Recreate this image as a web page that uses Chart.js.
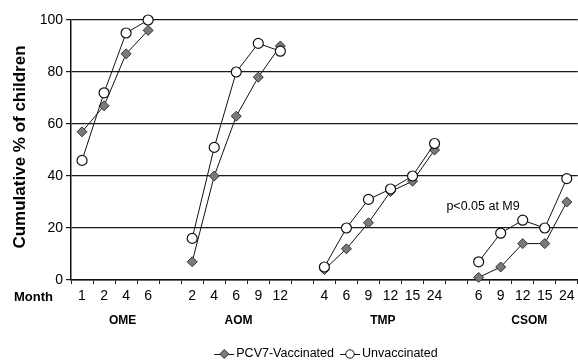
<!DOCTYPE html>
<html>
<head>
<meta charset="utf-8">
<script src="https://cdn.jsdelivr.net/npm/chart.js@4.4.0/dist/chart.umd.min.js"></script>
<style>
  html, body { margin: 0; padding: 0; background: #fff; overflow: hidden; width: 578px; height: 362px; }
  canvas { display: block; }
</style>
</head>
<body>
<canvas id="otitisChart" width="584" height="362"></canvas>
<script>
// month labels per outcome group, '' = spacer slot between groups
const months = ['1', '2', '4', '6', '',
  '2', '4', '6', '9', '12', '',
  '4', '6', '9', '12', '15', '24', '',
  '6', '9', '12', '15', '24'];

const pcv7Vaccinated = [57, 67, 87, 96, null,
  7, 40, 63, 78, 90, null,
  4, 12, 22, 34, 38, 50, null,
  1, 5, 14, 14, 30];

const unvaccinated = [46, 72, 95, 100, null,
  16, 51, 80, 91, 88, null,
  5, 20, 31, 35, 40, 52.5, null,
  7, 18, 23, 20, 39];

const groupNames = ['OME', 'AOM', 'TMP', 'CSOM'];
const groupCenters = [1.84, 7.1, 13.65, 20.3];   // category index where label sits
const yTicks = [0, 20, 40, 60, 80, 100];
const noteText = 'p<0.05 at M9';

const FONT = '"Liberation Sans", Arial, Helvetica, sans-serif';

function drawDiamond(ctx, x, y, r) {
  ctx.beginPath();
  ctx.moveTo(x, y - r);
  ctx.lineTo(x + r, y);
  ctx.lineTo(x, y + r);
  ctx.lineTo(x - r, y);
  ctx.closePath();
  ctx.fillStyle = '#7a7a7a';
  ctx.fill();
  ctx.strokeStyle = '#333';
  ctx.lineWidth = 1;
  ctx.stroke();
}

function drawCircle(ctx, x, y, r) {
  ctx.beginPath();
  ctx.arc(x, y, r, 0, Math.PI * 2);
  ctx.fillStyle = '#fff';
  ctx.fill();
  ctx.strokeStyle = '#111';
  ctx.lineWidth = 1;
  ctx.stroke();
}

/* ---- extra text: axis title, Month, group names, note, legend ---- */
const extraText = {
  id: 'extraText',
  afterDraw(chart) {
    const { ctx, scales } = chart;
    const xs = scales.x, ys = scales.y;
    ctx.save();
    ctx.fillStyle = '#000';

    // y title
    ctx.save();
    ctx.translate(20, 147);
    ctx.rotate(-Math.PI / 2);
    ctx.font = 'bold 17px ' + FONT;
    ctx.textAlign = 'center';
    ctx.textBaseline = 'middle';
    ctx.fillText('Cumulative % of children', 0, 0);
    ctx.restore();

    // Month
    ctx.font = 'bold 13px ' + FONT;
    ctx.textAlign = 'left';
    ctx.textBaseline = 'middle';
    ctx.fillText('Month', 14, 297);

    // group names
    ctx.font = 'bold 12px ' + FONT;
    ctx.textAlign = 'center';
    groupNames.forEach((g, i) => {
      ctx.fillText(g, xs.getPixelForValue(groupCenters[i]), 321);
    });

    // note
    ctx.font = '12.5px ' + FONT;
    ctx.fillText(noteText, xs.getPixelForValue(18.2), ys.getPixelForValue(28.3));

    // legend
    const items = [
      { label: 'PCV7-Vaccinated', mark: drawDiamond, r: 4.5 },
      { label: 'Unvaccinated', mark: drawCircle, r: 4.2 },
    ];
    ctx.font = '12.5px ' + FONT;
    const symW = 20, gap = 2, between = 6;
    let total = 0;
    items.forEach((it, i) => {
      it.w = ctx.measureText(it.label).width;
      total += symW + gap + it.w + (i ? between : 0);
    });
    let x = 326 - total / 2;
    const ly = 354;
    items.forEach((it, i) => {
      if (i) x += between;
      ctx.strokeStyle = '#111';
      ctx.lineWidth = 1;
      ctx.beginPath();
      ctx.moveTo(x, ly + 0.5);
      ctx.lineTo(x + symW, ly + 0.5);
      ctx.stroke();
      it.mark(ctx, x + symW / 2, ly, it.r);
      x += symW + gap;
      ctx.fillStyle = '#000';
      ctx.textAlign = 'left';
      ctx.textBaseline = 'middle';
      ctx.fillText(it.label, x, ly);
      x += it.w;
    });
    ctx.restore();
  },
};

const ctx = document.getElementById('otitisChart').getContext('2d');
new Chart(ctx, {
  type: 'line',
  data: {
    labels: months,
    datasets: [
      {
        label: 'Unvaccinated',
        data: unvaccinated,
        borderColor: '#111',
        borderWidth: 1,
        pointStyle: 'circle',
        pointRadius: 5,
        pointBackgroundColor: '#fff',
        pointBorderColor: '#111',
        pointBorderWidth: 1.2,
        spanGaps: false,
        tension: 0,
        clip: false,
      },
      {
        label: 'PCV7-Vaccinated',
        data: pcv7Vaccinated,
        borderColor: '#111',
        borderWidth: 1,
        pointStyle: 'rectRot',
        pointRadius: 5,
        pointBackgroundColor: '#7a7a7a',
        pointBorderColor: '#333',
        pointBorderWidth: 1,
        spanGaps: false,
        tension: 0,
        clip: false,
      },
    ],
  },
  options: {
    responsive: false,
    animation: false,
    events: [],
    layout: { padding: { top: 20, right: 1, bottom: 0, left: 0 } },
    plugins: { legend: { display: false }, tooltip: { enabled: false } },
    scales: {
      x: {
        type: 'category',
        offset: true,
        afterFit(scale) { scale.height = 82; },
        grid: {
          offset: true,
          drawOnChartArea: false,
          drawTicks: true,
          tickLength: 4,
          color: '#222',
        },
        border: { display: true, color: '#111', width: 1.5 },
        ticks: {
          autoSkip: false,
          maxRotation: 0,
          padding: 4,
          color: '#000',
          font: { family: FONT, size: 14 },
        },
      },
      y: {
        min: 0,
        max: 100,
        afterFit(scale) { scale.width = 71; },
        afterBuildTicks(scale) { scale.ticks = yTicks.map((v) => ({ value: v })); },
        grid: { color: '#1a1a1a', lineWidth: 1.2, tickLength: 5, drawTicks: true },
        border: { display: true, color: '#111', width: 1.5 },
        ticks: {
          padding: 3,
          color: '#000',
          font: { family: FONT, size: 14 },
        },
      },
    },
  },
  plugins: [extraText],
});
</script>
</body>
</html>
